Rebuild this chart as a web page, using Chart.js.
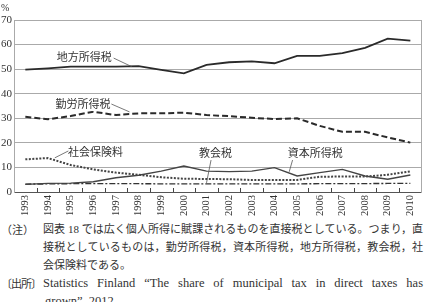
<!DOCTYPE html>
<html>
<head>
<meta charset="utf-8">
<script src="https://cdn.jsdelivr.net/npm/chart.js@4"></script>
<style>
  body { margin: 0; background: #fff; width: 426px; height: 302px; overflow: hidden; position: relative; }
  #wrap { position: absolute; left: 0; top: 0; width: 426px; height: 218px; }
  .note { position: absolute; font-family: "Liberation Serif", "Noto Sans CJK JP", serif; font-size: 11px; color: #333; line-height: 18px; white-space: nowrap; }
  .lbl { left: 1px; font-family: "Noto Sans CJK JP"; font-size: 11px; }
  .txt { left: 43px; width: 380px; }
  .j { text-align: justify; text-align-last: justify; white-space: normal; }
  .lat { font-size: 12.5px; }
</style>
</head>
<body>
<div id="wrap"><canvas id="grafico"></canvas></div>

<div class="note lbl" style="top:220px">（注）</div>
<div class="note txt" style="top:220px">
  <div class="j">図表 18 では広く個人所得に賦課されるものを直接税としている。つまり，直</div>
  <div class="j">接税としているものは，勤労所得税，資本所得税，地方所得税，教会税，社</div>
  <div>会保険料である。</div>
</div>
<div class="note lbl" style="top:274px; letter-spacing:-1px">〔出所〕</div>
<div class="note txt" style="top:274px">
  <div class="j lat">Statistics Finland “The share of municipal tax in direct taxes has</div>
  <div class="lat" style="padding-left:2px">grown”, 2012.</div>
</div>

<script>
const years = ["1993","1994","1995","1996","1997","1998","1999","2000","2001","2002","2003","2004","2005","2006","2007","2008","2009","2010"];
const chihou  = [49.8, 50.3, 51.0, 51.0, 51.0, 51.2, 49.7, 48.3, 51.7, 52.8, 53.2, 52.4, 55.4, 55.4, 56.5, 58.7, 62.4, 61.6];
const kinrou  = [30.6, 29.6, 30.9, 32.7, 31.3, 32.0, 32.0, 32.3, 31.3, 30.9, 30.2, 29.7, 30.0, 26.9, 24.5, 24.5, 22.2, 20.1];
const shakai  = [13.3, 13.8, 11.0, 9.2, 7.9, 7.0, 6.0, 5.4, 5.3, 5.2, 4.9, 4.9, 4.9, 6.2, 6.3, 6.3, 7.0, 8.4];
const shihon  = [3.1, 3.5, 3.6, 4.2, 5.8, 6.8, 8.5, 10.6, 8.5, 8.3, 8.5, 9.9, 6.5, 7.9, 9.2, 6.5, 5.2, 6.9];
const kyoukai = [3.2, 3.3, 3.4, 3.4, 3.4, 3.4, 3.3, 3.3, 3.3, 3.3, 3.3, 3.3, 3.3, 3.4, 3.4, 3.4, 3.5, 3.5];
const yTicks  = [0, 10, 20, 30, 40, 50, 60, 70];

// labels: [text, x index, value, leader from idx, from val, to idx, to val]
const notes = [
  ["地方所得税", 2.6, 55.0, 3.9, 54.5, 4.7, 51.0],
  ["勤労所得税", 2.55, 35.8, 3.8, 35.8, 4.6, 32.6],
  ["社会保険料", 3.1, 16.3, 1.9, 16.7, 1.3, 13.9],
  ["教会税", 8.4, 15.9, 8.2, 13.0, 8.0, 3.7],
  ["資本所得税", 12.8, 15.9, 11.8, 13.0, 11.65, 8.2]
];

const serif = "'Liberation Serif', 'DejaVu Serif', serif";
const ink = "#333";

function idxPx(x, i) {
  // fractional category index -> pixel
  const a = x.getPixelForValue(Math.floor(i));
  const b = x.getPixelForValue(Math.floor(i) + 1);
  return a + (b - a) * (i - Math.floor(i));
}

const etiquetas = {
  id: "etiquetas",
  afterDatasetsDraw(chart) {
    const { ctx, scales: { x, y } } = chart;
    ctx.save();
    ctx.font = "11px 'Noto Sans CJK JP'";
    ctx.strokeStyle = "#555";
    ctx.lineWidth = 0.8;
    ctx.textAlign = "center";
    ctx.textBaseline = "middle";
    notes.forEach(n => {
      const tx = idxPx(x, n[1]), ty = y.getPixelForValue(n[2]);
      ctx.fillStyle = "#fff";
      const w = ctx.measureText(n[0]).width;
      ctx.fillRect(tx - w / 2 - 2, ty - 7, w + 4, 14);
      ctx.fillStyle = ink;
      ctx.fillText(n[0], tx, ty);
      ctx.beginPath();
      ctx.moveTo(idxPx(x, n[3]), y.getPixelForValue(n[4]));
      ctx.lineTo(idxPx(x, n[5]), y.getPixelForValue(n[6]));
      ctx.stroke();
    });
    // small inside ticks at category boundaries
    ctx.strokeStyle = "#444";
    ctx.lineWidth = 1;
    const base = y.getPixelForValue(0);
    for (let i = 1; i < years.length; i++) {
      const px = Math.round(idxPx(x, i - 0.5)) + 0.5;
      ctx.beginPath();
      ctx.moveTo(px, base);
      ctx.lineTo(px, base - 4);
      ctx.stroke();
    }
    // percent sign
    ctx.font = "10px " + serif;
    ctx.textAlign = "left";
    ctx.fillText("%", 1, 8);
    ctx.restore();
  }
};

function serie(data, dash, width, color) {
  return {
    data, borderColor: color, borderWidth: width, borderDash: dash,
    pointRadius: 0, tension: 0, fill: false
  };
}

new Chart(document.getElementById("grafico"), {
  type: "line",
  data: {
    labels: years,
    datasets: [
      serie(chihou, [], 1.8, "#2a2a2a"),
      serie(kinrou, [6, 3], 2, "#2a2a2a"),
      serie(shakai, [2, 1.5], 2, "#444"),
      serie(shihon, [], 1.4, "#444"),
      serie(kyoukai, [6, 2, 2, 2], 1.4, "#333")
    ]
  },
  options: {
    responsive: true,
    maintainAspectRatio: false,
    animation: false,
    layout: { padding: { top: 20, right: 2, left: 0, bottom: 0 } },
    plugins: { legend: { display: false }, tooltip: { enabled: false } },
    scales: {
      x: {
        offset: true,
        afterFit: s => { s.height = 26; },
        grid: { display: false, drawTicks: false },
        border: { display: true, color: "#555", width: 1 },
        ticks: { minRotation: 90, maxRotation: 90, autoSkip: false, padding: 3, color: ink, font: { family: serif, size: 10.5 } }
      },
      y: {
        min: 0, max: 70,
        afterFit: s => { s.width = 14; },
        afterBuildTicks: s => { s.ticks = yTicks.map(v => ({ value: v })); },
        grid: { color: c => c.tick.value === 0 ? "#555" : "#aaa", drawTicks: false },
        border: { display: true, color: "#aaa" },
        ticks: { padding: 2, color: ink, font: { family: serif, size: 11 } }
      },
      y2: {
        position: "right", min: 0, max: 70,
        afterFit: s => { s.width = 0; },
        grid: { display: false },
        border: { display: true, color: "#aaa" },
        ticks: { display: false }
      }
    }
  },
  plugins: [etiquetas]
});
</script>
</body>
</html>
